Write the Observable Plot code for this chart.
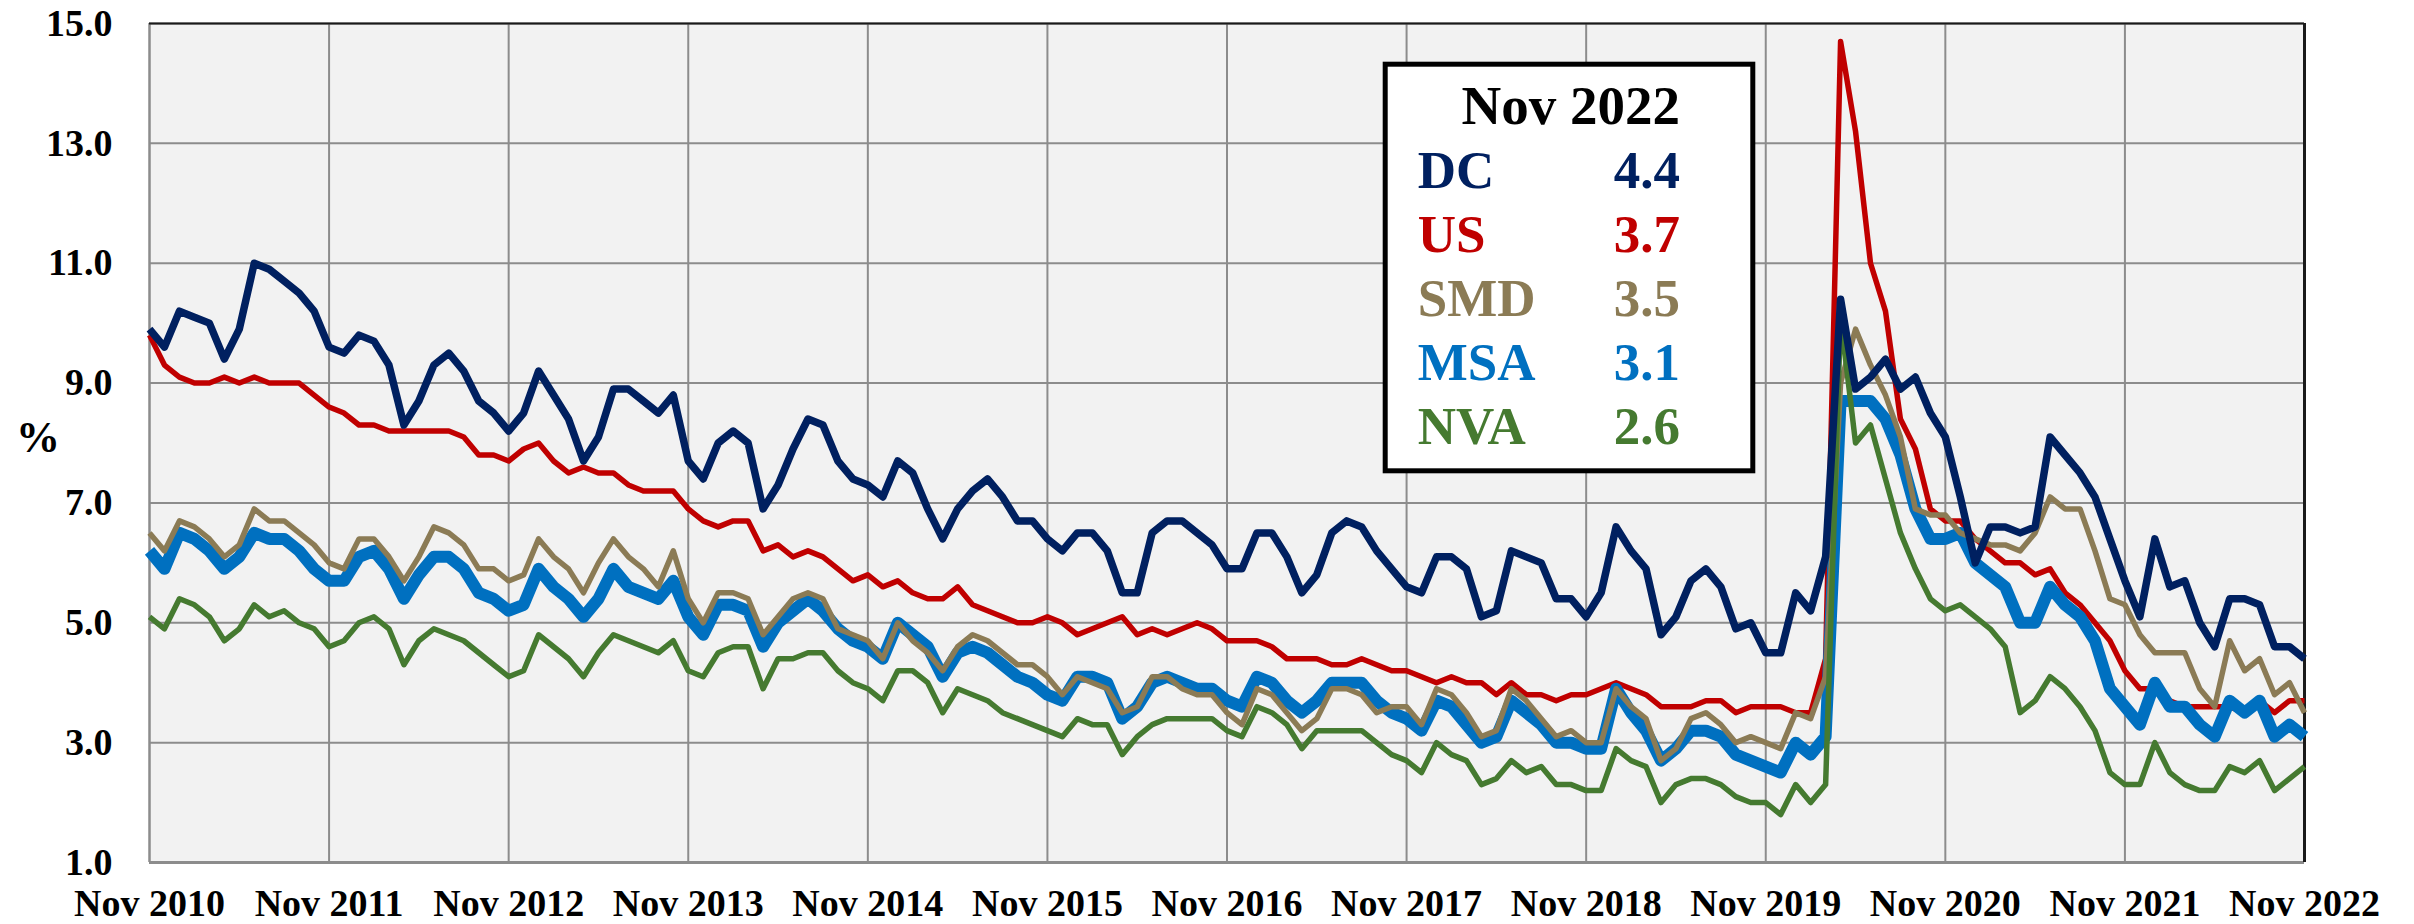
<!DOCTYPE html>
<html><head><meta charset="utf-8">
<script src="https://cdn.jsdelivr.net/npm/d3@7"></script>
<script src="https://cdn.jsdelivr.net/npm/@observablehq/plot@0.6"></script>
<style>
html,body{margin:0;padding:0;background:#fff;}
#chart{position:relative;width:2414px;height:924px;overflow:hidden;}
</style></head><body><div id="chart"></div>
<script>
// ---- data (monthly, Nov 2010 .. Nov 2022) ----
const xTickLabels = ["Nov 2010","Nov 2011","Nov 2012","Nov 2013","Nov 2014","Nov 2015","Nov 2016","Nov 2017","Nov 2018","Nov 2019","Nov 2020","Nov 2021","Nov 2022"];
const yTicks = [1,3,5,7,9,11,13,15];
const seriesNames = ["DC","US","SMD","MSA","NVA"];
const legendTitle = "Nov 2022";
const yLabel = "%";

const dc = [9.9,9.6,10.2,10.1,10.0,9.4,9.9,11.0,10.9,10.7,10.5,10.2,
9.6,9.5,9.8,9.7,9.3,8.3,8.7,9.3,9.5,9.2,8.7,8.5,
8.2,8.5,9.2,8.8,8.4,7.7,8.1,8.9,8.9,8.7,8.5,8.8,
7.7,7.4,8.0,8.2,8.0,6.9,7.3,7.9,8.4,8.3,7.7,7.4,
7.3,7.1,7.7,7.5,6.9,6.4,6.9,7.2,7.4,7.1,6.7,6.7,
6.4,6.2,6.5,6.5,6.2,5.5,5.5,6.5,6.7,6.7,6.5,6.3,
5.9,5.9,6.5,6.5,6.1,5.5,5.8,6.5,6.7,6.6,6.2,5.9,
5.6,5.5,6.1,6.1,5.9,5.1,5.2,6.2,6.1,6.0,5.4,5.4,
5.1,5.5,6.6,6.2,5.9,4.8,5.1,5.7,5.9,5.6,4.9,5.0,
4.5,4.5,5.5,5.2,6.1,10.4,8.9,9.1,9.4,8.9,9.1,8.5,
8.1,7.1,6.0,6.6,6.6,6.5,6.6,8.1,7.8,7.5,7.1,6.4,
5.7,5.1,6.4,5.6,5.7,5.0,4.6,5.4,5.4,5.3,4.6,4.6,
4.4];
const us = [9.8,9.3,9.1,9.0,9.0,9.1,9.0,9.1,9.0,9.0,9.0,8.8,
8.6,8.5,8.3,8.3,8.2,8.2,8.2,8.2,8.2,8.1,7.8,7.8,
7.7,7.9,8.0,7.7,7.5,7.6,7.5,7.5,7.3,7.2,7.2,7.2,
6.9,6.7,6.6,6.7,6.7,6.2,6.3,6.1,6.2,6.1,5.9,5.7,
5.8,5.6,5.7,5.5,5.4,5.4,5.6,5.3,5.2,5.1,5.0,5.0,
5.1,5.0,4.8,4.9,5.0,5.1,4.8,4.9,4.8,4.9,5.0,4.9,
4.7,4.7,4.7,4.6,4.4,4.4,4.4,4.3,4.3,4.4,4.3,4.2,
4.2,4.1,4.0,4.1,4.0,4.0,3.8,4.0,3.8,3.8,3.7,3.8,
3.8,3.9,4.0,3.9,3.8,3.6,3.6,3.6,3.7,3.7,3.5,3.6,
3.6,3.6,3.5,3.5,4.4,14.7,13.2,11.0,10.2,8.4,7.9,6.9,
6.7,6.7,6.4,6.2,6.0,6.0,5.8,5.9,5.5,5.3,5.0,4.7,
4.2,3.9,3.9,3.7,3.6,3.6,3.6,3.6,3.5,3.7,3.5,3.7,
3.7];
const smd = [6.5,6.2,6.7,6.6,6.4,6.1,6.3,6.9,6.7,6.7,6.5,6.3,
6.0,5.9,6.4,6.4,6.1,5.7,6.1,6.6,6.5,6.3,5.9,5.9,
5.7,5.8,6.4,6.1,5.9,5.5,6.0,6.4,6.1,5.9,5.6,6.2,
5.4,5.0,5.5,5.5,5.4,4.8,5.1,5.4,5.5,5.4,4.9,4.8,
4.7,4.4,5.0,4.7,4.5,4.2,4.6,4.8,4.7,4.5,4.3,4.3,
4.1,3.8,4.1,4.0,3.9,3.5,3.6,4.1,4.1,3.9,3.8,3.8,
3.5,3.3,3.9,3.8,3.5,3.2,3.4,3.9,3.9,3.8,3.5,3.6,
3.6,3.3,3.9,3.8,3.5,3.1,3.2,3.9,3.7,3.4,3.1,3.2,
3.0,3.0,3.9,3.6,3.4,2.7,2.9,3.4,3.5,3.3,3.0,3.1,
3.0,2.9,3.5,3.4,4.1,9.0,9.9,9.3,8.8,8.1,6.9,6.8,
6.8,6.5,6.4,6.3,6.3,6.2,6.5,7.1,6.9,6.9,6.2,5.4,
5.3,4.8,4.5,4.5,4.5,3.9,3.6,4.7,4.2,4.4,3.8,4.0,
3.5];
const msa = [6.2,5.9,6.5,6.4,6.2,5.9,6.1,6.5,6.4,6.4,6.2,5.9,
5.7,5.7,6.1,6.2,5.9,5.4,5.8,6.1,6.1,5.9,5.5,5.4,
5.2,5.3,5.9,5.6,5.4,5.1,5.4,5.9,5.6,5.5,5.4,5.7,
5.1,4.8,5.3,5.3,5.2,4.6,5.0,5.2,5.4,5.2,4.9,4.7,
4.6,4.4,5.0,4.8,4.6,4.1,4.5,4.6,4.5,4.3,4.1,4.0,
3.8,3.7,4.1,4.1,4.0,3.4,3.6,4.0,4.1,4.0,3.9,3.9,
3.7,3.6,4.1,4.0,3.7,3.5,3.7,4.0,4.0,4.0,3.7,3.5,
3.4,3.2,3.7,3.6,3.3,3.0,3.1,3.7,3.5,3.3,3.0,3.0,
2.9,2.9,3.9,3.5,3.2,2.7,2.9,3.2,3.2,3.1,2.8,2.7,
2.6,2.5,3.0,2.8,3.1,8.7,8.7,8.7,8.4,7.8,6.9,6.4,
6.4,6.5,6.0,5.8,5.6,5.0,5.0,5.6,5.3,5.1,4.7,3.9,
3.6,3.3,4.0,3.6,3.6,3.3,3.1,3.7,3.5,3.7,3.1,3.3,
3.1];
const nva = [5.1,4.9,5.4,5.3,5.1,4.7,4.9,5.3,5.1,5.2,5.0,4.9,
4.6,4.7,5.0,5.1,4.9,4.3,4.7,4.9,4.8,4.7,4.5,4.3,
4.1,4.2,4.8,4.6,4.4,4.1,4.5,4.8,4.7,4.6,4.5,4.7,
4.2,4.1,4.5,4.6,4.6,3.9,4.4,4.4,4.5,4.5,4.2,4.0,
3.9,3.7,4.2,4.2,4.0,3.5,3.9,3.8,3.7,3.5,3.4,3.3,
3.2,3.1,3.4,3.3,3.3,2.8,3.1,3.3,3.4,3.4,3.4,3.4,
3.2,3.1,3.6,3.5,3.3,2.9,3.2,3.2,3.2,3.2,3.0,2.8,
2.7,2.5,3.0,2.8,2.7,2.3,2.4,2.7,2.5,2.6,2.3,2.3,
2.2,2.2,2.9,2.7,2.6,2.0,2.3,2.4,2.4,2.3,2.1,2.0,
2.0,1.8,2.3,2.0,2.3,10.1,8.0,8.3,7.4,6.5,5.9,5.4,
5.2,5.3,5.1,4.9,4.6,3.5,3.7,4.1,3.9,3.6,3.2,2.5,
2.3,2.3,3.0,2.5,2.3,2.2,2.2,2.6,2.5,2.7,2.2,2.4,
2.6];

// ---- styling ----
const colors = {DC:"#002060", US:"#c00000", SMD:"#8b7b55", MSA:"#0070c0", NVA:"#457a30"};
const widths = {DC:7.5, US:5.5, SMD:5.5, MSA:12, NVA:5.5};
const seriesData = {DC:dc, US:us, SMD:smd, MSA:msa, NVA:nva};
const drawOrder = ["US","MSA","SMD","NVA","DC"];
const xTicks = xTickLabels.map((_, j) => j * 12);
const gridColor = "#8c8c8c";
const FONT = "'Liberation Serif', 'Times New Roman', serif";

const plot = Plot.plot({
  width: 2414, height: 924,
  marginLeft: 149, marginRight: 110, marginTop: 23, marginBottom: 62,
  style: {fontFamily: FONT, fontWeight: "bold", fontSize: "38px", color: "#000", background: "transparent", overflow: "visible"},
  x: {domain: [0, 144], ticks: xTicks, tickFormat: d => xTickLabels[Math.round(d / 12)], tickSize: 0, tickPadding: 27, label: null},
  y: {domain: [1, 15], ticks: yTicks, tickFormat: d => d.toFixed(1), tickSize: 0, tickPadding: 37, label: null},
  marks: [
    Plot.frame({fill: "#f2f2f2", stroke: null}),
    Plot.gridY(yTicks, {stroke: gridColor, strokeWidth: 2, strokeOpacity: 1}),
    Plot.gridX(xTicks, {stroke: gridColor, strokeWidth: 2, strokeOpacity: 1}),
    Plot.ruleY([1], {stroke: gridColor, strokeWidth: 3}),
    Plot.ruleX([0], {stroke: gridColor, strokeWidth: 2}),
    Plot.ruleY([15], {stroke: "#1a1a1a", strokeWidth: 2}),
    Plot.ruleX([144], {stroke: "#1a1a1a", strokeWidth: 3}),
    ...drawOrder.map(s => Plot.line(seriesData[s].map((v, i) => ({i, v})), {
      x: "i", y: "v", stroke: colors[s], strokeWidth: widths[s],
      strokeLinejoin: "round", strokeLinecap: "butt"
    }))
  ]
});
document.getElementById("chart").appendChild(plot);

// ---- y label and value box ----
const svg = d3.select(plot);
svg.append("text").attr("x", 38).attr("y", 452).attr("text-anchor", "middle")
  .attr("font-family", FONT).attr("font-size", 44).attr("font-weight", "bold").text(yLabel);

const box = svg.append("g");
box.append("rect").attr("x", 1385.2).attr("y", 64.2).attr("width", 367.6).attr("height", 406.6)
  .attr("fill", "#fff").attr("stroke", "#000").attr("stroke-width", 5);
box.append("text").attr("x", 1680).attr("y", 124).attr("text-anchor", "end")
  .attr("font-family", FONT).attr("font-size", 55).attr("font-weight", "bold").attr("fill", "#000").text(legendTitle);
seriesNames.forEach((s, j) => {
  const y = 187.7 + j * 64.1;
  const vals = seriesData[s];
  box.append("text").attr("x", 1417.7).attr("y", y).attr("text-anchor", "start").attr("font-family", FONT).attr("font-size", 53)
    .attr("font-weight", "bold").attr("fill", colors[s]).text(s);
  box.append("text").attr("x", 1680).attr("y", y).attr("text-anchor", "end").attr("font-family", FONT)
    .attr("font-size", 53).attr("font-weight", "bold").attr("fill", colors[s]).text(vals[vals.length - 1].toFixed(1));
});
</script>
</body></html>
